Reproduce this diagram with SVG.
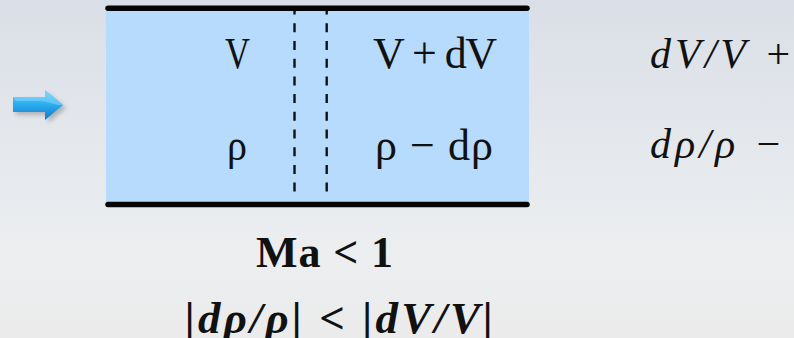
<svg xmlns="http://www.w3.org/2000/svg" width="794" height="338" viewBox="0 0 794 338">
  <defs>
    <linearGradient id="bg" x1="0" y1="0" x2="0" y2="1">
      <stop offset="0" stop-color="#dadfe7"/>
      <stop offset="0.75" stop-color="#eceef0"/>
      <stop offset="1" stop-color="#ebebeb"/>
    </linearGradient>
    <linearGradient id="arrowFill" x1="0" y1="0" x2="0" y2="1">
      <stop offset="0" stop-color="#6fd0fb"/>
      <stop offset="0.45" stop-color="#2db0f0"/>
      <stop offset="1" stop-color="#1478c8"/>
    </linearGradient>
    <filter id="shadow" x="-30%" y="-30%" width="160%" height="160%">
      <feGaussianBlur stdDeviation="2"/>
    </filter>
  </defs>
  <style>
    .up { font-family: "Liberation Serif", "Times New Roman", serif; font-size: 44px; fill: #111; }
    .it { font-family: "Liberation Serif", "Times New Roman", serif; font-style: italic; font-size: 42px; fill: #111; }
    .bd { font-family: "Liberation Serif", "Times New Roman", serif; font-weight: bold; font-size: 44px; fill: #111; }
    .bi { font-family: "Liberation Serif", "Times New Roman", serif; font-weight: bold; font-style: italic; font-size: 45px; fill: #111; }
    .wall { stroke: #050505; stroke-width: 5.5; stroke-linecap: round; fill: none; }
    .dash { stroke: #111; stroke-width: 2.4; stroke-dasharray: 9 8.7; fill: none; }
  </style>

  <rect x="0" y="0" width="794" height="338" fill="url(#bg)"/>

  <g id="arrow">
    <polygon points="16,100 48,100 48,93 66,108 48,123 48,115 16,115" fill="#555" opacity="0.35" filter="url(#shadow)"/>
    <polygon points="13,97 45,97 45,90 63,105 45,120 45,112 13,112" fill="url(#arrowFill)"/>
    <polygon points="13,97 45,97 45,90 63,105 58,105 42,101 16,101" fill="#8adcff" opacity="0.5"/>
  </g>

  <g id="pipe">
    <rect x="106" y="10" width="423" height="192" fill="#b7dbfc"/>
    <line class="wall" x1="108" y1="8.3" x2="527" y2="8.3"/>
    <line class="wall" x1="108" y1="204.5" x2="527" y2="204.5"/>
    <line class="dash" x1="294.5" y1="11" x2="294.5" y2="200" stroke-dashoffset="5.4"/>
    <line class="dash" x1="326.7" y1="11" x2="326.7" y2="200" stroke-dashoffset="5.4"/>
  </g>

  <g id="labels-inlet">
    <text class="up" x="225" y="68" textLength="25" lengthAdjust="spacingAndGlyphs">V</text>
    <text class="up" x="227" y="160" textLength="20" lengthAdjust="spacingAndGlyphs">ρ</text>
  </g>

  <g id="labels-outlet">
    <text class="up" x="373" y="68" textLength="124" lengthAdjust="spacing">V + dV</text>
    <text class="up" x="375" y="160" textLength="118" lengthAdjust="spacing">ρ − dρ</text>
  </g>

  <g id="equations">
    <text class="it" x="650" y="68" textLength="142" lengthAdjust="spacing">dV/V +</text>
    <text class="it" x="650" y="158" textLength="132" lengthAdjust="spacing">dρ/ρ −</text>
  </g>

  <g id="condition">
    <text class="bd" x="256" y="267" textLength="137" lengthAdjust="spacing">Ma &lt; 1</text>
    <text class="bi" x="185" y="333" textLength="308" lengthAdjust="spacing">|dρ/ρ| &lt; |dV/V|</text>
  </g>
</svg>
